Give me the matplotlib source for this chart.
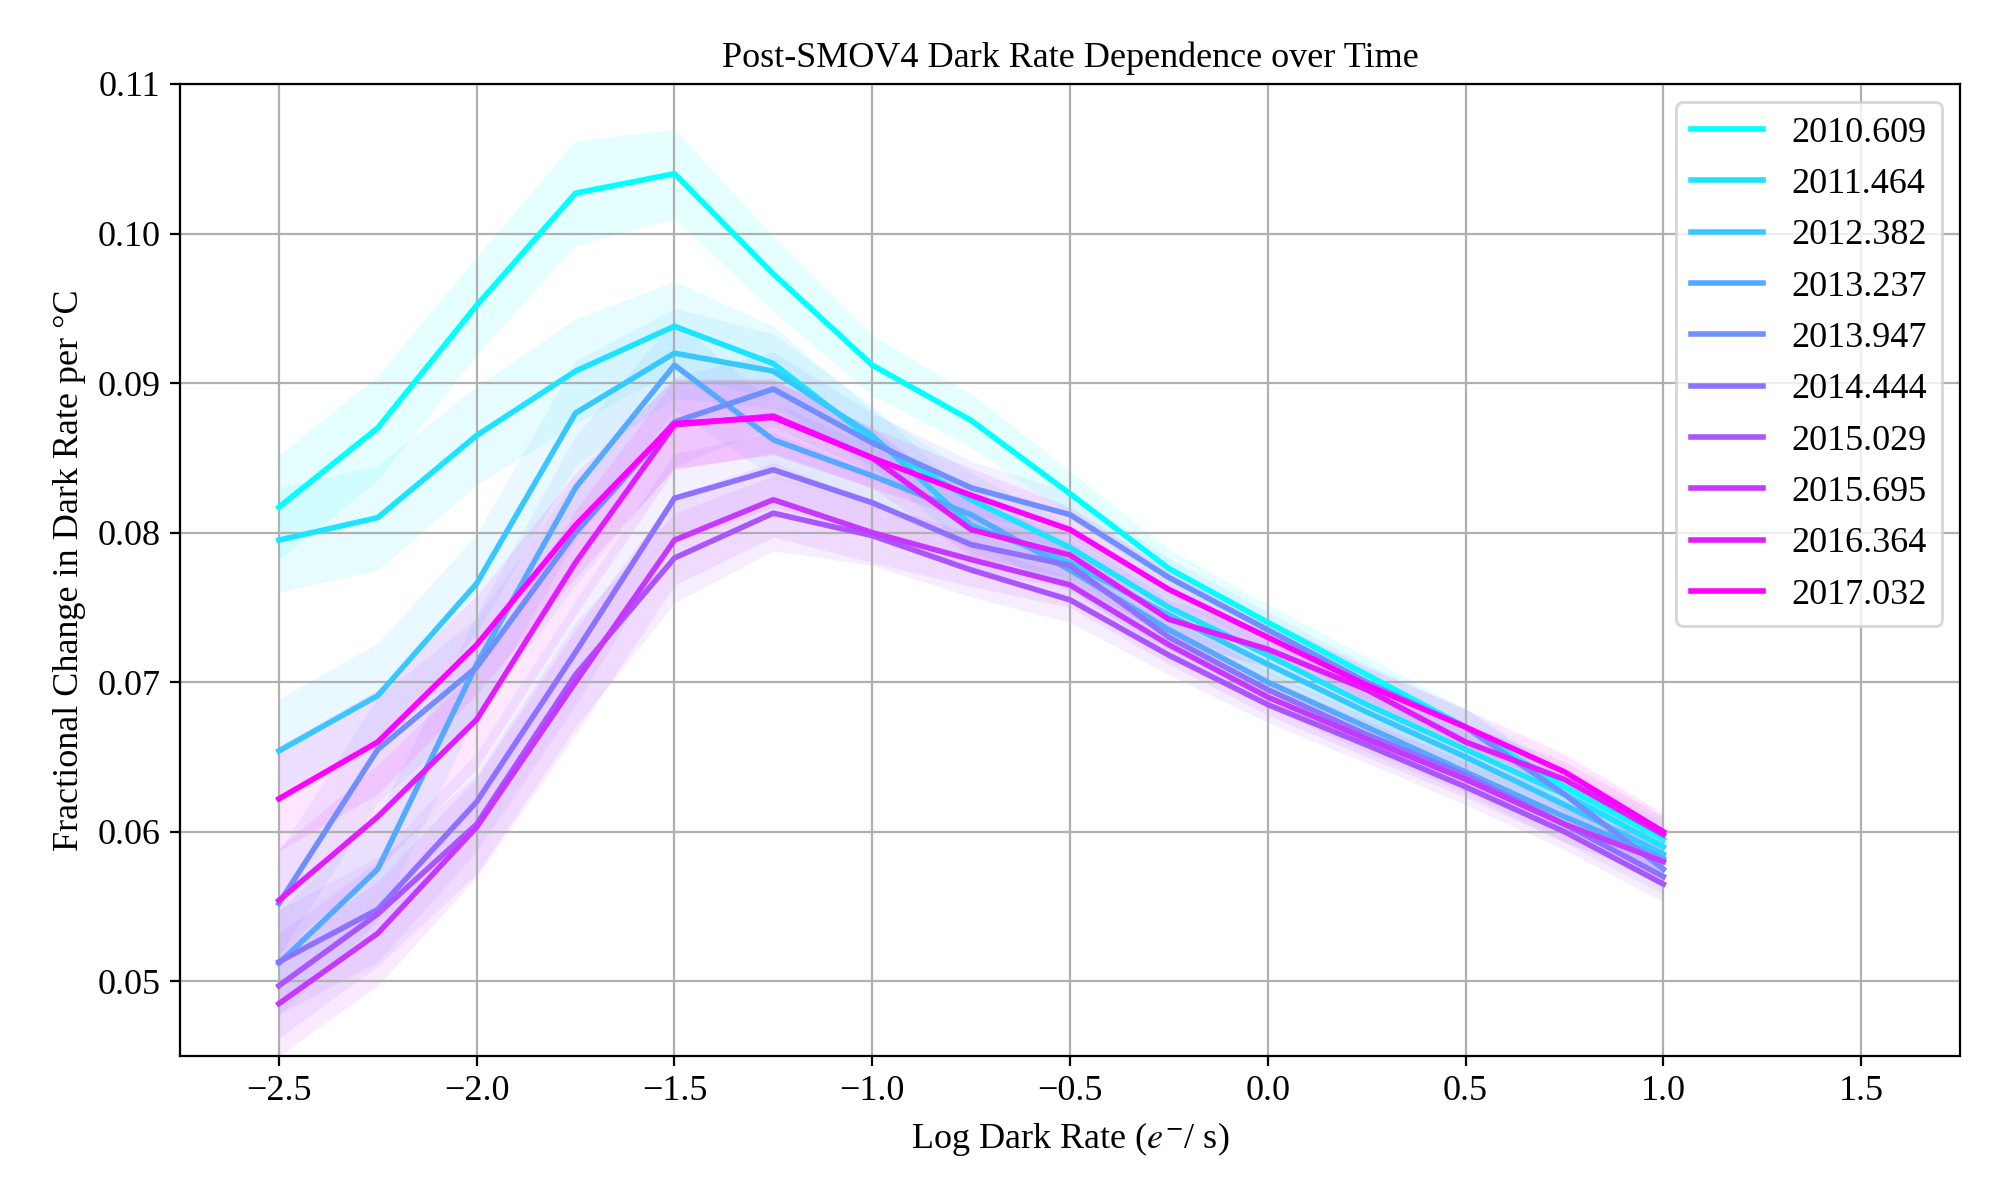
import numpy as np
import matplotlib.pyplot as plt

plt.rcParams['font.family'] = ['Liberation Serif', 'DejaVu Serif']
plt.rcParams['mathtext.fontset'] = 'stix'

log_rate = [-2.5, -2.25, -2.0, -1.75, -1.5, -1.25, -1.0, -0.75, -0.5, -0.25, 0.0, 0.25, 0.5, 0.75, 1.0]
epochs = ['2010.609', '2011.464', '2012.382', '2013.237', '2013.947',
          '2014.444', '2015.029', '2015.695', '2016.364', '2017.032']

s2010_609 = [.0817, .0870, .0952, .1027, .1040, .0973, .0912, .0875, .0826, .0776, .0740, .0705, .0670, .0630, .0595]
s2011_464 = [.0795, .0810, .0865, .0908, .0938, .0913, .0862, .0822, .0790, .0750, .0718, .0685, .0655, .0625, .0590]
s2012_382 = [.0654, .0691, .0766, .0880, .0920, .0908, .0865, .0805, .0780, .0745, .0712, .0680, .0650, .0618, .0585]
s2013_237 = [.0512, .0575, .0712, .0830, .0912, .0862, .0838, .0812, .0775, .0735, .0700, .0670, .0640, .0610, .0582]
s2013_947 = [.0552, .0655, .0710, .0800, .0874, .0896, .0860, .0830, .0812, .0770, .0735, .0700, .0670, .0625, .0575]
s2014_444 = [.0513, .0548, .0620, .0720, .0823, .0842, .0820, .0792, .0778, .0730, .0695, .0665, .0638, .0605, .0570]
s2015_029 = [.0497, .0545, .0605, .0705, .0783, .0813, .0798, .0775, .0755, .0718, .0685, .0658, .0630, .0600, .0565]
s2015_695 = [.0485, .0532, .0603, .0700, .0795, .0822, .0800, .0782, .0765, .0725, .0690, .0662, .0635, .0605, .0580]
s2016_364 = [.0554, .0610, .0675, .0780, .0872, .0878, .0850, .0802, .0785, .0742, .0722, .0695, .0660, .0635, .0598]
s2017_032 = [.0622, .0660, .0725, .0805, .0873, .0877, .0850, .0825, .0802, .0762, .0730, .0698, .0670, .0640, .0600]

# half-width of the shaded uncertainty band at each log rate
band = [.0035, .0035, .0033, .0035, .0030, .0025, .0020, .0018, .0015, .0013, .0012, .0012, .0012, .0012, .0012]

series = [s2010_609, s2011_464, s2012_382, s2013_237, s2013_947,
          s2014_444, s2015_029, s2015_695, s2016_364, s2017_032]

fig, ax = plt.subplots(figsize=(10, 6), dpi=200)
colors = plt.cm.cool(np.linspace(0, 1, len(series)))
x = np.array(log_rate)
b = np.array(band)
for lab, y, c in zip(epochs, series, colors):
    y = np.array(y)
    ax.fill_between(x, y - b, y + b, color=c, alpha=0.1, lw=0)
    ax.plot(x, y, color=c, lw=2, label=lab)

ax.set_xlim(-2.75, 1.75)
ax.set_ylim(0.045, 0.11)
ax.set_xticks(np.arange(-2.5, 1.51, 0.5))
ax.set_yticks(np.arange(0.05, 0.111, 0.01))
ax.grid(True, color='#b0b0b0')
ax.set_xlabel(r'Log Dark Rate ($e^{-}$/ s)', fontsize=13)
ax.set_ylabel('Fractional Change in Dark Rate per °C', fontsize=13)
ax.set_title('Post-SMOV4 Dark Rate Dependence over Time', fontsize=13)
ax.tick_params(labelsize=13)
ax.legend(loc='upper right', fontsize=13)
fig.subplots_adjust(left=0.09, right=0.98, top=0.93, bottom=0.12)
fig.savefig('out.png')
